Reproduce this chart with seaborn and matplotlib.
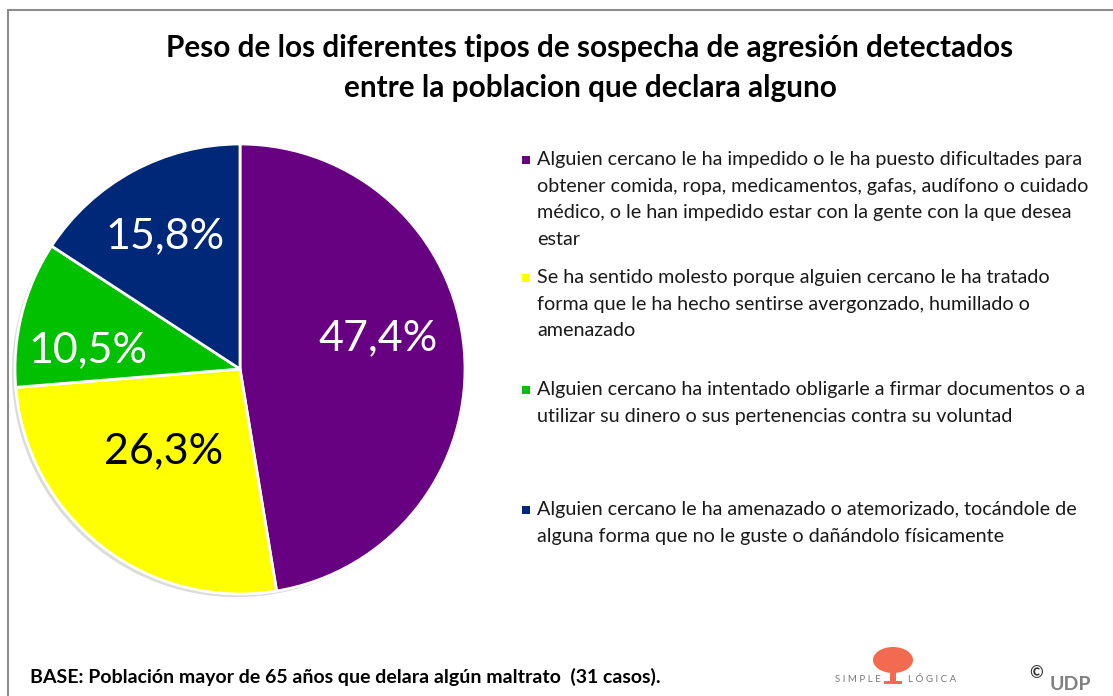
import matplotlib
matplotlib.use("Agg")
import matplotlib.pyplot as plt
import matplotlib.patches as mpatches
import numpy as np
import seaborn as sns

# ---- data ----
categories = [
    "Alguien cercano le ha impedido o le ha puesto dificultades para\nobtener comida, ropa, medicamentos, gafas, audífono o cuidado\nmédico, o le han impedido estar con la gente con la que desea\nestar",
    "Se ha sentido molesto porque alguien cercano le ha tratado\nforma que le ha hecho sentirse avergonzado, humillado o\namenazado",
    "Alguien cercano ha intentado obligarle a firmar documentos o a\nutilizar su dinero o sus pertenencias contra su voluntad",
    "Alguien cercano le ha amenazado o atemorizado, tocándole de\nalguna forma que no le guste o dañándolo físicamente",
]
shares = [47.4, 26.3, 10.5, 15.8]
colors = ["#680082", "#FFFF00", "#00C000", "#002878"]
label_colors = ["white", "black", "white", "white"]
# label placement (radius fraction, angular shift in degrees)
label_dist = [0.63, 0.50, 0.68, 0.68]
label_shift = [8, -5, 7, 1]

title = ("Peso de los diferentes tipos de sospecha de agresión detectados\n"
         "entre la poblacion que declara alguno")
footnote = "BASE: Población mayor de 65 años que delara algún maltrato  (31 casos)."

sns.set_theme(style="white")
plt.rcParams["font.family"] = ["Lato", "DejaVu Sans"]

W, H = 1113, 696
fig = plt.figure(figsize=(W / 100, H / 100), dpi=100)

# pie centred at (240, 369) px
cx, cy, r = 240, 369, 225
ax = fig.add_axes([(cx - r) / W, (H - cy - r) / H, 2 * r / W, 2 * r / H])
wedges, texts, autotexts = ax.pie(
    shares, colors=colors, startangle=90, counterclock=False,
    autopct=lambda p: f"{p:.1f}%".replace(".", ","), pctdistance=0.64,
    wedgeprops=dict(edgecolor="white", linewidth=2),
    textprops=dict(fontsize=31),
    shadow=dict(ox=-0.01, oy=-0.01, facecolor="#9a9a9a", edgecolor="none", alpha=0.35),
)
for w, t, c, d, s in zip(wedges, autotexts, label_colors, label_dist, label_shift):
    mid = np.deg2rad((w.theta1 + w.theta2) / 2 + s)
    t.set_position((d * np.cos(mid), d * np.sin(mid)))
    t.set_color(c)
ax.set_xlim(-1.0, 1.0)
ax.set_ylim(-1.0, 1.0)
ax.set_aspect("equal")
ax.axis("off")

# outer frame
fig.patches.append(mpatches.Rectangle((8 / W, -0.5), 2, 1.5 - 10 / H, transform=fig.transFigure,
                                      fill=False, edgecolor="#8c8c8c", linewidth=1.5))

fig.text(590 / W, 1 - 68 / H, title, ha="center", va="center", fontsize=21.4,
         fontweight="bold", linespacing=1.55, color="black")

# legend, manually placed
item_y = [160, 278, 390, 510]
for lab, col, y in zip(categories, colors, item_y):
    fig.patches.append(mpatches.Rectangle((522 / W, 1 - (y + 4) / H), 8 / W, 8 / H,
                                          transform=fig.transFigure, facecolor=col, edgecolor="none"))
    fig.text(537 / W, 1 - (y - 9) / H, lab, ha="left", va="top", fontsize=14.2,
             linespacing=1.68, color="#1a1a1a")

fig.text(30 / W, 1 - 677 / H, footnote, ha="left", va="center", fontsize=14,
         fontweight="bold", color="black")

# logo
fig.text(858 / W, 1 - 680 / H, "S I M P L E", ha="center", va="center", fontsize=7, color="#777777")
fig.text(932 / W, 1 - 680 / H, "L Ó G I C A", ha="center", va="center", fontsize=7, color="#777777")
fig.patches.append(mpatches.Ellipse((893 / W, 1 - 660 / H), 40 / W, 26 / H,
                                    transform=fig.transFigure, facecolor="#f26a4f", edgecolor="none"))
fig.patches.append(mpatches.Rectangle((890 / W, 1 - 684 / H), 6 / W, 18 / H,
                                      transform=fig.transFigure, facecolor="#f26a4f", edgecolor="none"))
fig.patches.append(mpatches.Rectangle((884 / W, 1 - 684 / H), 18 / W, 3 / H,
                                      transform=fig.transFigure, facecolor="#f26a4f", edgecolor="none"))
fig.text(1036 / W, 1 - 673 / H, "©", ha="center", va="center", fontsize=12, fontweight="bold", color="#333333")
fig.text(1070 / W, 1 - 684 / H, "UDP", ha="center", va="center", fontsize=14, fontweight="bold", color="#808080")

fig.savefig("out.png", dpi=100, facecolor="white")
